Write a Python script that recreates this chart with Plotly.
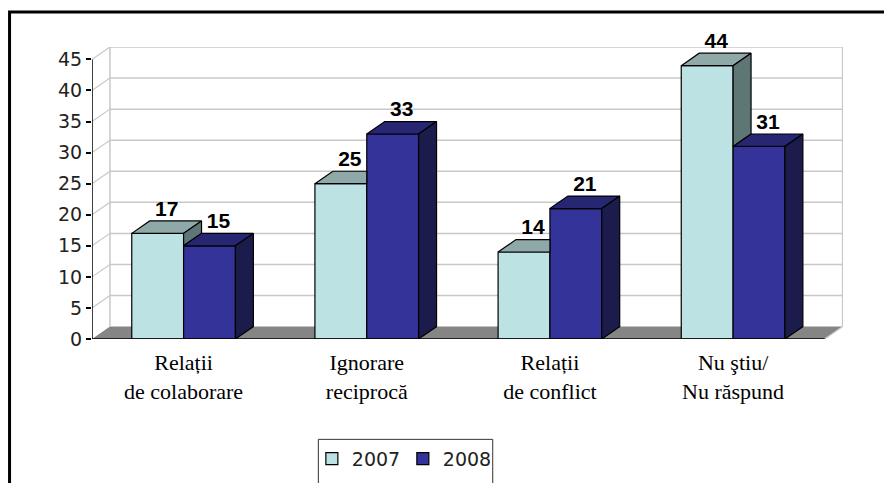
import plotly.graph_objects as go

# ---------------- data ----------------
categories = ["Relații<br>de colaborare", "Ignorare<br>reciprocă",
              "Relații<br>de conflict", "Nu ştiu/<br>Nu răspund"]
series_names = ["2007", "2008"]
values_2007 = [17, 25, 14, 44]
values_2008 = [15, 33, 21, 31]
y_tick_values = [0, 5, 10, 15, 20, 25, 30, 35, 40, 45]

# ---------------- geometry / style ----------------
OFF = 8                # browser body margin
W, H = 892 - OFF, 483 - OFF
ML, MR, MT, MB = 84, 48.5, 38.6, 144
X_RANGE = [-0.5, 3.6]
Y_RANGE = [0, 47]
BAR_W = 0.283          # width of each bar (category units)
DX, DY = 0.098, 2.0    # 3D depth offset in data units
FRONT_X0, FRONT_X1 = -0.5, 3.5

C07 = dict(front="#BCE2E4", top="#8FA9A9", side="#5E7676")
C08 = dict(front="#333399", top="#262673", side="#1C1C4C")
GRID = "#C8C8C8"
FLOOR = "#858585"

plot_w = W - ML - MR
plot_h = H - MT - MB


def px_to_paper_x(px):
    # px given in screenshot coordinates
    return (px - OFF - ML) / plot_w


def px_to_paper_y(py):
    return (H - MB - (py - OFF)) / plot_h


fig = go.Figure()

# front faces (bars)
fig.add_trace(go.Bar(
    x=list(range(len(categories))), y=values_2007, name=series_names[0],
    width=BAR_W, offset=-BAR_W, marker=dict(color=C07["front"], line=dict(color="black", width=1.2)),
    hoverinfo="y"))
fig.add_trace(go.Bar(
    x=list(range(len(categories))), y=values_2008, name=series_names[1],
    width=BAR_W, offset=0, marker=dict(color=C08["front"], line=dict(color="black", width=1.2)),
    hoverinfo="y"))


def poly(xs, ys, color):
    fig.add_trace(go.Scatter(
        x=xs + [xs[0]], y=ys + [ys[0]], mode="lines", fill="toself",
        fillcolor=color, line=dict(color="black", width=1.2),
        showlegend=False, hoverinfo="skip"))


# top & side faces computed from the values
for i, (v7, v8) in enumerate(zip(values_2007, values_2008)):
    x0, x1, x2 = i - BAR_W, i, i + BAR_W
    if v8 < v7:
        poly([x0, x1, x1 + DX, x0 + DX], [v7, v7, v7 + DY, v7 + DY], C07["top"])
        poly([x1, x1 + DX, x1 + DX, x1], [v8, v8 + DY, v7 + DY, v7], C07["side"])
    else:
        poly([x0, x1, x1, x0 + DX], [v7, v7, v7 + DY, v7 + DY], C07["top"])
    poly([x1, x2, x2 + DX, x1 + DX], [v8, v8, v8 + DY, v8 + DY], C08["top"])
    poly([x2, x2 + DX, x2 + DX, x2], [0, DY, v8 + DY, v8], C08["side"])

# value labels
label_x, label_y, label_t = [], [], []
for i, (v7, v8) in enumerate(zip(values_2007, values_2008)):
    label_x += [i - BAR_W / 2 + DX / 2, i + BAR_W / 2 + DX / 2]
    label_y += [v7 + DY, v8 + DY]
    label_t += [str(v7), str(v8)]
fig.add_trace(go.Scatter(
    x=label_x, y=label_y, text=label_t, mode="text", textposition="top center",
    textfont=dict(family="Liberation Sans", size=21, color="black", weight="bold"),
    showlegend=False, hoverinfo="skip", cliponaxis=False))

# ---------------- walls, floor, grid ----------------
shapes = []
shapes.append(dict(
    type="path", xref="x", yref="y", layer="below",
    path=f"M{FRONT_X0},0 L{FRONT_X1},0 L{FRONT_X1 + DX},{DY} L{FRONT_X0 + DX},{DY} Z",
    fillcolor=FLOOR, line=dict(width=0)))
for v in y_tick_values[1:]:
    shapes.append(dict(type="line", xref="x", yref="y", layer="below",
                       x0=FRONT_X0 + DX, x1=FRONT_X1 + DX, y0=v + DY, y1=v + DY,
                       line=dict(color=GRID, width=1.5)))
    shapes.append(dict(type="line", xref="x", yref="y", layer="below",
                       x0=FRONT_X0, x1=FRONT_X0 + DX, y0=v, y1=v + DY,
                       line=dict(color=GRID, width=1.2)))
for xe in (FRONT_X0 + DX, FRONT_X1 + DX):
    shapes.append(dict(type="line", xref="x", yref="y", layer="below",
                       x0=xe, x1=xe, y0=DY, y1=y_tick_values[-1] + DY,
                       line=dict(color=GRID, width=1.5)))
shapes.append(dict(type="line", xref="x", yref="y", layer="below",
                   x0=FRONT_X1, x1=FRONT_X1 + DX, y0=0, y1=DY,
                   line=dict(color=GRID, width=1.2)))
shapes.append(dict(type="line", xref="x", yref="y", x0=FRONT_X0, x1=FRONT_X0,
                   y0=0, y1=y_tick_values[-1], line=dict(color="black", width=1.5)))
shapes.append(dict(type="line", xref="x", yref="y", x0=FRONT_X0, x1=FRONT_X1,
                   y0=0, y1=0, line=dict(color="black", width=1.5)))
# outer frame
shapes.append(dict(type="rect", xref="paper", yref="paper",
                   x0=px_to_paper_x(9.5), x1=px_to_paper_x(892 + 30),
                   y0=px_to_paper_y(11.5), y1=px_to_paper_y(483 + 30),
                   line=dict(color="black", width=3)))
# legend box
shapes.append(dict(type="rect", xref="paper", yref="paper",
                   x0=px_to_paper_x(318.5), x1=px_to_paper_x(493),
                   y0=px_to_paper_y(439.5), y1=px_to_paper_y(483 + 30),
                   line=dict(color="#333333", width=1)))

fig.update_layout(
    width=W, height=H,
    margin=dict(l=ML, r=MR, t=MT, b=MB, pad=0, autoexpand=False),
    paper_bgcolor="white", plot_bgcolor="white",
    barmode="overlay",
    shapes=shapes,
    showlegend=True,
    legend=dict(orientation="h", x=px_to_paper_x(312), y=px_to_paper_y(440),
                xanchor="left", yanchor="top", bgcolor="rgba(0,0,0,0)",
                font=dict(family="DejaVu Sans", size=19, color="#222222"),
                itemwidth=30, tracegroupgap=0, entrywidth=46, entrywidthmode="pixels"),
    xaxis=dict(range=X_RANGE, tickvals=list(range(len(categories))), ticktext=categories,
               showgrid=False, zeroline=False, showline=False, ticks="",
               tickfont=dict(family="Liberation Serif", size=22, color="black"),
               ticklabelstandoff=8, automargin=False, fixedrange=True),
    yaxis=dict(range=Y_RANGE, tickvals=y_tick_values, showgrid=False, zeroline=False,
               showline=False, ticks="outside", ticklen=5, tickwidth=1.5, tickcolor="black",
               tickfont=dict(family="DejaVu Sans", size=19, color="#222222"),
               automargin=False, fixedrange=True),
)

fig.write_html("out.html")
